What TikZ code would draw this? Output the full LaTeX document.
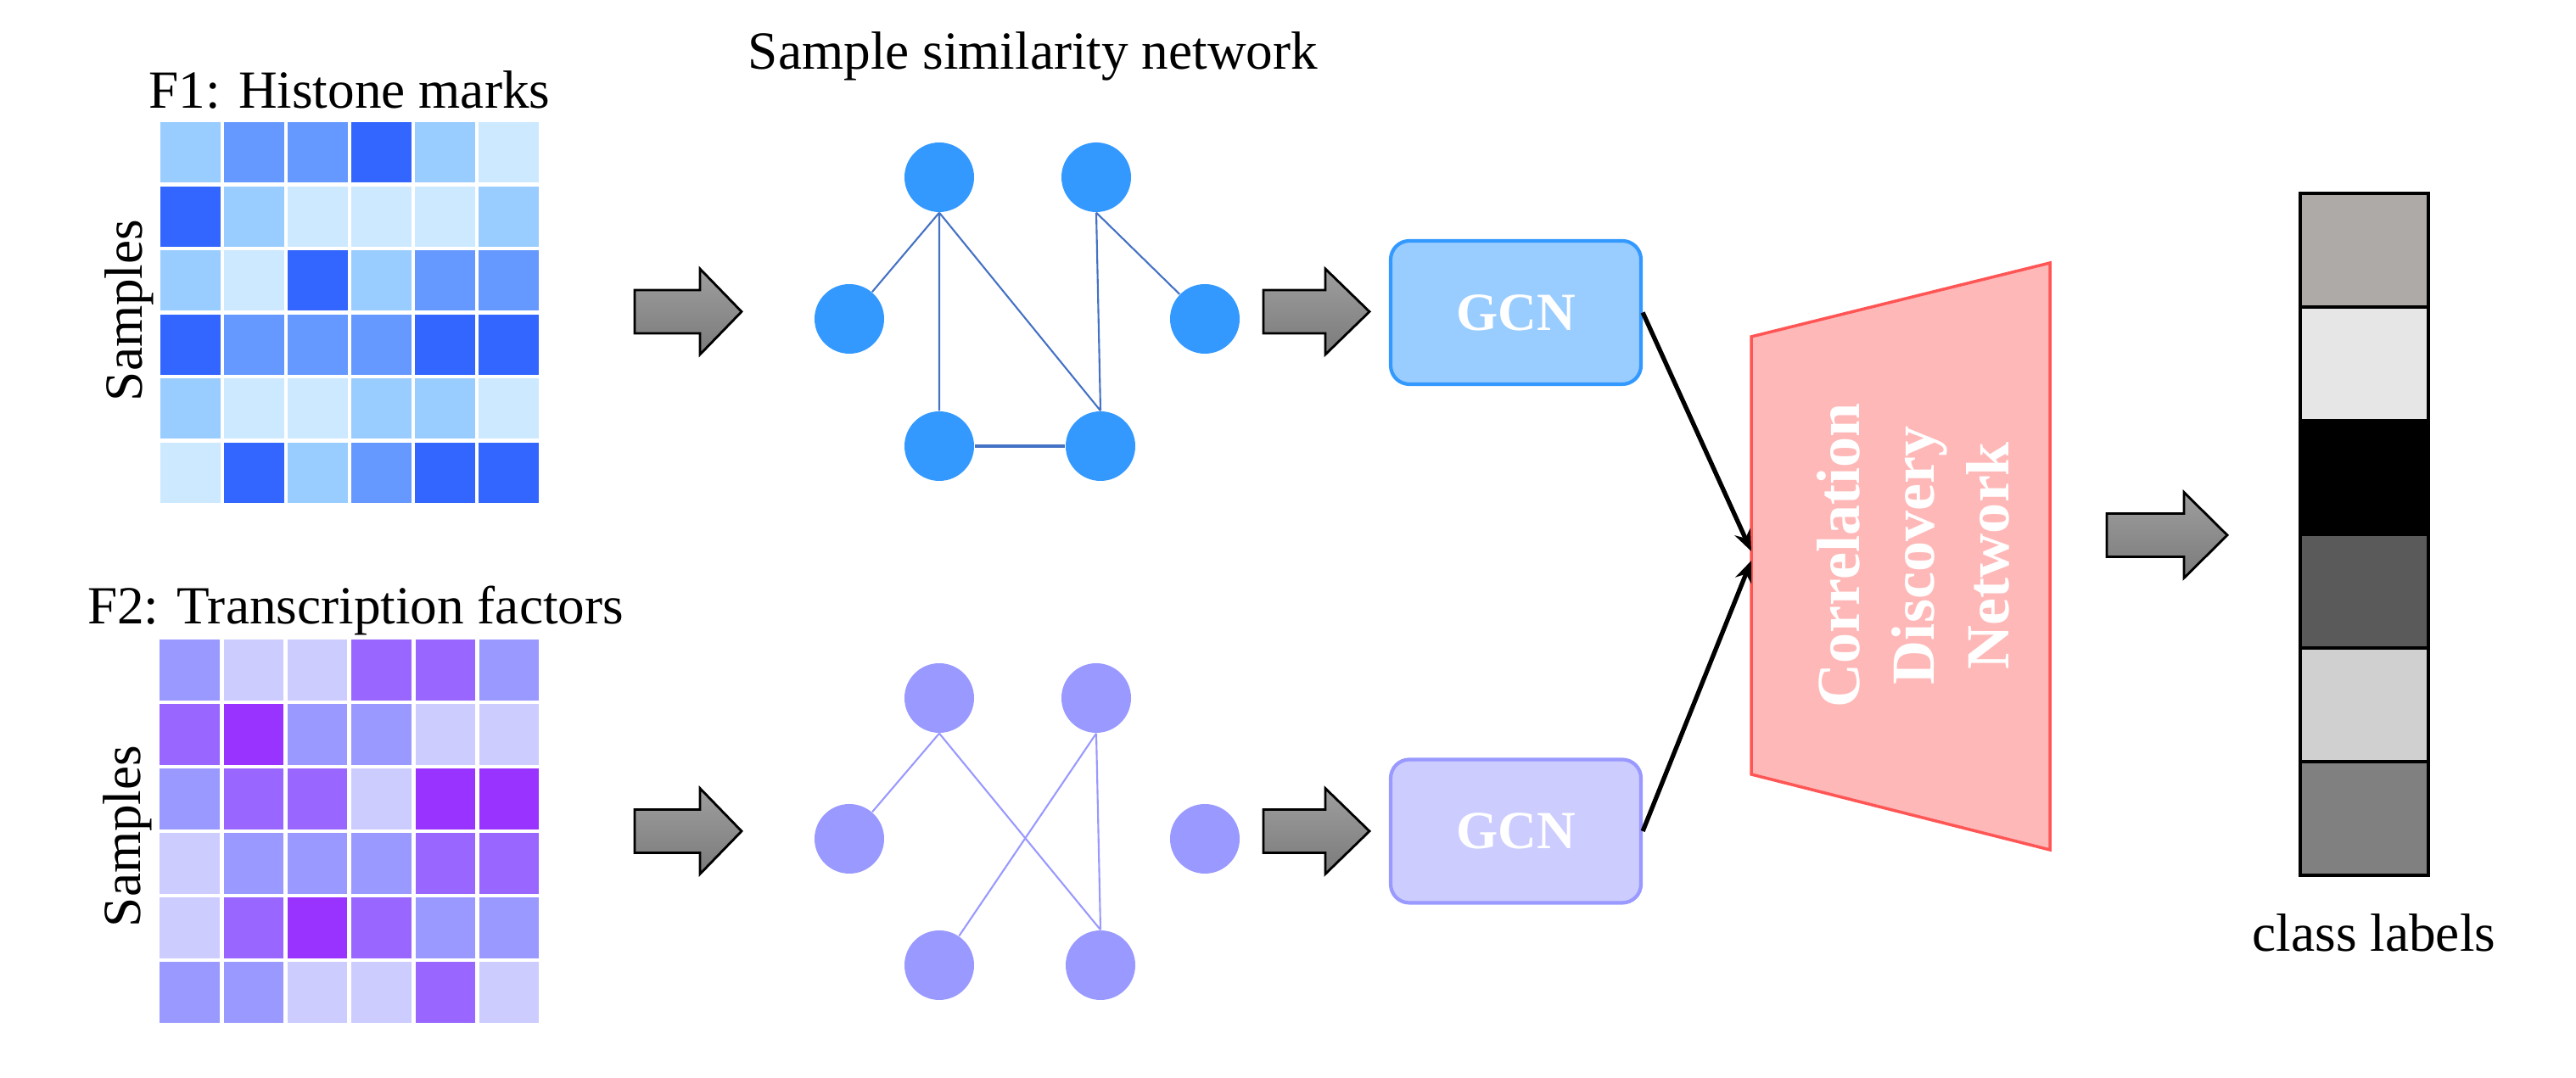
\documentclass[tikz,border=0pt]{standalone}
\usepackage{fontspec}
\setmainfont{Liberation Serif}
\usetikzlibrary{arrows.meta}
\tikzset {>=Stealth}
\definecolor{hmV}{HTML}{CCE9FF}
\definecolor{hmL}{HTML}{99CCFF}
\definecolor{hmM}{HTML}{6699FF}
\definecolor{hmD}{HTML}{3366FF}
\definecolor{tfV}{HTML}{CCCCFF}
\definecolor{tfL}{HTML}{9999FF}
\definecolor{tfM}{HTML}{9966FF}
\definecolor{tfD}{HTML}{9933FF}
\definecolor{netA}{HTML}{3399FF}
\definecolor{edgeA}{HTML}{4472C4}
\definecolor{cdnfill}{HTML}{FFB8B8}
\definecolor{cdnline}{HTML}{FF5555}
\definecolor{lab1}{HTML}{ADAAA8}
\definecolor{lab2}{HTML}{E6E6E6}
\definecolor{lab3}{HTML}{000000}
\definecolor{lab4}{HTML}{5A5A5A}
\definecolor{lab5}{HTML}{D0D0D0}
\definecolor{lab6}{HTML}{808080}
\tikzset{
  lbl/.style={font=\fontsize{18}{21}\selectfont},
  cell/.style={draw=white, line width=1.4pt},
  vtx/.style={circle, minimum size=0.82cm, inner sep=0pt},
  gcnbox/.style={rounded corners=0.22cm, line width=1.2pt, minimum width=2.95cm,
    minimum height=1.69cm, text=white, font=\bfseries\fontsize{18}{21}\selectfont},
  fatarrow/.style={draw=black, line width=0.8pt, top color=black!38, bottom color=black!52},
  labcell/.style={draw=black, line width=1pt, minimum width=1.51cm, minimum height=1.34cm, inner sep=0pt}
}
% tail x, mid y, shaft length, head length
\newcommand*{\blockarrow}[4]{%
  \draw[fatarrow] (#1,#2-0.255) -- ++(#3,0) -- ++(0,-0.25) -- ++(#4,0.505)
    -- ++(-#4,0.505) -- ++(0,-0.25) -- ++(-#3,0) -- cycle;}

\begin{document}
\begin{tikzpicture}
\useasboundingbox (0,0) rectangle (30.36,12.71);
% input matrices
\foreach \row [count=\r] in {{L,M,M,D,L,V},{D,L,V,V,V,L},{L,V,D,L,M,M},{D,M,M,M,D,D},{L,V,V,L,L,V},{V,D,L,M,D,D}}
  \foreach \v [count=\c] in \row
    \filldraw[cell, fill=hm\v] (1.12+0.75*\c, 12.045-0.755*\r) rectangle ++(0.75,-0.755);
\foreach \row [count=\r] in {{L,V,V,M,M,L},{M,D,L,L,V,V},{L,M,M,V,D,D},{V,L,L,L,M,M},{V,M,D,M,L,L},{L,L,V,V,M,V}}
  \foreach \v [count=\c] in \row
    \filldraw[cell, fill=tf\v] (1.107+0.753*\c, 5.95-0.76*\r) rectangle ++(0.753,-0.76);
\node[lbl, anchor=base] (f1lbl) at (4.12,11.43) {F1: Histone marks};
\node[lbl, anchor=base] (f2lbl) at (4.19,5.35) {F2: Transcription factors};
\node[lbl, rotate=90, anchor=base] (smp1) at (1.67,9.05) {Samples};
\node[lbl, rotate=90, anchor=base] (smp2) at (1.65,2.85) {Samples};
\node[lbl, anchor=base] (ssnlbl) at (12.175,11.89) {Sample similarity network};
% block arrows
\blockarrow{7.48}{9.035}{0.77}{0.49}
\blockarrow{7.48}{2.91}{0.77}{0.49}
\blockarrow{14.89}{9.035}{0.73}{0.52}
\blockarrow{14.89}{2.91}{0.73}{0.52}
\blockarrow{24.83}{6.40}{0.91}{0.51}
% similarity networks
\node[vtx, fill=netA] (A) at (11.07,10.62) {};
\node[vtx, fill=netA] (B) at (12.92,10.62) {};
\node[vtx, fill=netA] (C) at (10.01,8.95) {};
\node[vtx, fill=netA] (D) at (14.20,8.95) {};
\node[vtx, fill=netA] (E) at (11.07,7.45) {};
\node[vtx, fill=netA] (F) at (12.97,7.45) {};
\draw[edgeA, line width=0.6pt] (A.south) -- (C) (A.south) -- (E.north) (A.south) -- (F.north)
  (B.south) -- (F.north) (B.south) -- (D);
\draw[edgeA, line width=1.3pt] (E) -- (F);
\node[vtx, fill=tfL] (A2) at (11.07,4.48) {};
\node[vtx, fill=tfL] (B2) at (12.92,4.48) {};
\node[vtx, fill=tfL] (C2) at (10.01,2.82) {};
\node[vtx, fill=tfL] (D2) at (14.20,2.82) {};
\node[vtx, fill=tfL] (E2) at (11.07,1.33) {};
\node[vtx, fill=tfL] (F2) at (12.97,1.33) {};
\draw[tfL, line width=0.6pt] (A2.south) -- (C2) (A2.south) -- (F2.north)
  (B2.south) -- (E2) (B2.south) -- (F2.north);
% GCN and correlation discovery network
\node[gcnbox, fill=hmL, draw=netA] (gcn1) at (17.865,9.025) {GCN};
\node[gcnbox, fill=tfV, draw=tfL] (gcn2) at (17.865,2.91) {GCN};
\coordinate (cdnTL) at (20.64,8.74);
\coordinate (cdnTR) at (24.16,9.61);
\coordinate (cdnBR) at (24.16,2.69);
\coordinate (cdnBL) at (20.64,3.58);
\coordinate (cdnin) at (20.64,6.16);
\draw[fill=cdnfill, draw=cdnline, line width=1pt] (cdnTL) -- (cdnTR) -- (cdnBR) -- (cdnBL) -- cycle;
\node[rotate=90, text=white, align=center, font=\bfseries\fontsize{20.5}{25}\selectfont] (cdn) at (22.55,6.16) {Correlation\\Discovery\\Network};
\draw[-{Stealth[length=0.25cm,width=0.2cm]}, line width=1.5pt] (gcn1.east) -- ([yshift=0.05cm]cdnin);
\draw[-{Stealth[length=0.25cm,width=0.2cm]}, line width=1.5pt] (gcn2.east) -- ([yshift=-0.06cm]cdnin);
% class labels
\foreach \i in {1,...,6}
  \node[labcell, fill=lab\i] (lab\i) at (27.865,11.10-1.34*\i) {};
\node[lbl, anchor=base] (classlbl) at (27.98,1.49) {class labels};
\end{tikzpicture}
\end{document}
